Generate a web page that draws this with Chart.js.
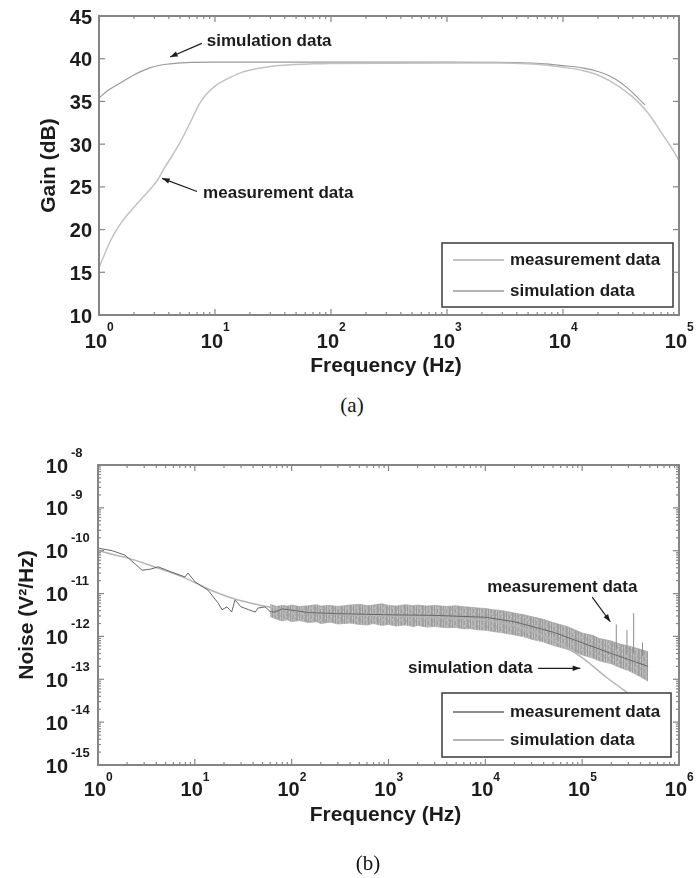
<!DOCTYPE html>
<html>
<head>
<meta charset="utf-8">
<script src="https://cdn.jsdelivr.net/npm/chart.js@4.4.1/dist/chart.umd.min.js"></script>
<style>
  body { margin: 0; background: #fff; width: 696px; height: 878px; position: relative; overflow: hidden; }
  canvas { position: absolute; left: 0; }
  #gain { top: 0; }
  #noise { top: 430px; }
  .cap { position: absolute; width: 60px; text-align: center; font-family: "Liberation Serif", "Times New Roman", serif; font-size: 21px; line-height: 24px; color: #111; }
</style>
</head>
<body>
<canvas id="gain" width="696" height="390"></canvas>
<canvas id="noise" width="696" height="448"></canvas>
<div class="cap" style="left:322px; top:393px">(a)</div>
<div class="cap" style="left:338px; top:851px">(b)</div>
<script>
// ---- (a) gain ----
const gainSimFreq = [1, 1.2, 1.5, 2, 2.7, 3.8, 5.7, 10, 100, 1000, 4000, 7000, 10000, 15000, 20000, 25000, 30000, 35000, 40000, 45000, 51000];
const gainSimDb = [35.4, 36.3, 37.1, 38.1, 38.9, 39.35, 39.55, 39.6, 39.6, 39.6, 39.55, 39.4, 39.2, 38.9, 38.5, 38.0, 37.4, 36.7, 36.0, 35.3, 34.6];
const gainMeasFreq = [1, 1.1, 1.2, 1.35, 1.5, 1.75, 2, 2.4, 2.8, 3.2, 3.7, 4.3, 5, 6, 7.4, 8.5, 10, 13, 17, 22, 30, 45, 70, 100, 1000, 3000, 5000, 7000, 10000, 15000, 20000, 30000, 40000, 50000, 60000, 70000, 85000, 100000];
const gainMeasDb = [15.5, 16.9, 18.1, 19.5, 20.5, 21.7, 22.6, 23.8, 24.8, 25.8, 27.3, 28.7, 30.2, 32.3, 34.8, 35.9, 36.8, 37.7, 38.4, 38.8, 39.1, 39.3, 39.4, 39.45, 39.5, 39.5, 39.4, 39.25, 39.0, 38.6, 38.1, 36.8, 35.5, 34.2, 32.8, 31.4, 29.7, 28.1];
const gainYTicks = [10, 15, 20, 25, 30, 35, 40, 45];
const gainXDecades = [0, 1, 2, 3, 4, 5];

// ---- (b) noise ----
const noiseSimFreq = [1, 1.5, 2, 3.6, 8, 13, 24, 50, 100, 300, 1000, 3000, 10000, 20000, 35000, 55000, 100000, 182000, 300000, 480000];
const noiseSimVal = [1.02e-10, 7.9e-11, 6.8e-11, 4.4e-11, 2.3e-11, 1.35e-11, 7.9e-12, 5.2e-12, 4.0e-12, 3.3e-12, 3.0e-12, 2.8e-12, 2.4e-12, 1.8e-12, 1.17e-12, 7.4e-13, 3.2e-13, 1.07e-13, 4.7e-14, 2.2e-14];
const noiseMeasFreq = [1, 1.4, 1.9, 2.4, 2.85, 3.45, 4.2, 5.5, 7.9, 8.5, 10.1, 13.7, 17.4, 19.1, 21.5, 24, 26, 30, 36, 42, 45, 53, 60, 67, 80, 92, 150, 300, 1000, 3000, 10000, 20000, 50000, 100000, 200000, 480000];
const noiseMeasVal = [1.15e-10, 1.0e-10, 7.9e-11, 5.0e-11, 3.5e-11, 3.7e-11, 4.2e-11, 3.3e-11, 2.45e-11, 3.0e-11, 1.86e-11, 1.2e-11, 6.0e-12, 4.2e-12, 4.9e-12, 3.7e-12, 7.1e-12, 4.9e-12, 4.2e-12, 3.7e-12, 4.6e-12, 4.9e-12, 3.8e-12, 3.7e-12, 4.4e-12, 4.2e-12, 3.6e-12, 3.4e-12, 3.2e-12, 3.1e-12, 2.8e-12, 2.2e-12, 1.26e-12, 7.1e-13, 4.0e-13, 2.0e-13];
const noiseBandFreq = [60, 70, 80, 90, 100, 120, 150, 180, 200, 250, 300, 400, 500, 600, 700, 850, 1000, 1200, 1500, 1800, 2000, 2500, 3000, 4000, 5000, 6000, 7000, 8500, 10000, 12000, 15000, 20000, 25000, 30000, 40000, 50000, 70000, 100000, 130000, 150000, 200000, 250000, 300000, 400000, 480000];
const noiseBandHigh = [5.6e-12, 5.0e-12, 5.3e-12, 5.1e-12, 5.4e-12, 5.0e-12, 5.2e-12, 5.5e-12, 5.1e-12, 5.3e-12, 5.0e-12, 5.4e-12, 5.6e-12, 5.2e-12, 5.4e-12, 5.8e-12, 5.3e-12, 5.1e-12, 5.5e-12, 5.2e-12, 5.4e-12, 5.1e-12, 5.3e-12, 5.0e-12, 5.2e-12, 4.9e-12, 4.8e-12, 4.6e-12, 4.5e-12, 4.2e-12, 4.0e-12, 3.5e-12, 3.2e-12, 2.9e-12, 2.5e-12, 2.1e-12, 1.7e-12, 1.2e-12, 1.05e-12, 9.0e-13, 7.8e-13, 6.6e-13, 6.0e-13, 5.0e-13, 4.4e-13];
const noiseBandLow = [2.9e-12, 2.5e-12, 2.3e-12, 2.45e-12, 2.2e-12, 2.35e-12, 2.1e-12, 2.2e-12, 2.0e-12, 2.15e-12, 1.95e-12, 2.05e-12, 1.9e-12, 1.85e-12, 2.0e-12, 1.8e-12, 1.9e-12, 1.75e-12, 1.85e-12, 1.7e-12, 1.8e-12, 1.65e-12, 1.7e-12, 1.6e-12, 1.62e-12, 1.5e-12, 1.52e-12, 1.42e-12, 1.4e-12, 1.3e-12, 1.22e-12, 1.08e-12, 9.8e-13, 8.6e-13, 7.4e-13, 6.2e-13, 5.0e-13, 3.7e-13, 3.1e-13, 2.7e-13, 2.3e-13, 1.85e-13, 1.6e-13, 1.15e-13, 9.0e-14];
const noiseSpikeFreq = [225000, 290000, 340000, 420000];
const noiseSpikeBase = [5.0e-13, 4.0e-13, 4.0e-13, 3.5e-13];
const noiseSpikeTop = [1.9e-12, 1.4e-12, 3.5e-12, 7.2e-13];
const noiseXDecades = [0, 1, 2, 3, 4, 5, 6];
const noiseYDecades = [-15, -14, -13, -12, -11, -10, -9, -8];

const ink = '#1c1c1c';
const sans = '"Liberation Sans", Arial, sans-serif';

function pts(xs, ys) {
  return xs.map((x, i) => ({ x: x, y: ys[i] }));
}

function spikes(f, lo, hi) {
  const out = [];
  f.forEach((x, i) => {
    out.push({ x: x, y: lo[i] }, { x: x, y: hi[i] }, { x: x, y: null });
  });
  return out;
}

function minorTicks(decades) {
  const out = [];
  for (let i = 0; i < decades.length - 1; i++) {
    for (let k = 2; k < 10; k++) out.push(k * Math.pow(10, decades[i]));
  }
  return out;
}

// grey hatch so the measured band looks grainy like the scan
function bandTexture() {
  const c = document.createElement('canvas');
  c.width = 9; c.height = 6;
  const g = c.getContext('2d');
  const greys = ['#a4a4a4', '#b4b4b4', '#9a9a9a', '#bcbcbc', '#aaaaaa', '#a0a0a0', '#b8b8b8', '#adadad', '#9e9e9e'];
  greys.forEach((col, i) => { g.fillStyle = col; g.fillRect(i, 0, 1, 6); });
  g.fillStyle = 'rgba(255,255,255,0.3)';
  g.fillRect(1, 1, 1, 2); g.fillRect(5, 3, 1, 2); g.fillRect(7, 0, 1, 1);
  return g.createPattern(c, 'repeat');
}

// draws the MATLAB style frame, tick labels, titles, notes and legend
const paperFrame = {
  id: 'paperFrame',
  afterDatasetsDraw(chart, args, o) {
    const ctx = chart.ctx, xs = chart.scales.x, ys = chart.scales.y, area = chart.chartArea;
    ctx.save();
    ctx.font = 'bold 17px ' + sans;
    ctx.textBaseline = 'middle';
    ctx.textAlign = 'left';
    o.notes.forEach(n => {
      ctx.fillStyle = ink;
      ctx.fillText(n.text, xs.getPixelForValue(n.at[0]), ys.getPixelForValue(n.at[1]));
      const x0 = xs.getPixelForValue(n.from[0]), y0 = ys.getPixelForValue(n.from[1]);
      const x1 = xs.getPixelForValue(n.to[0]), y1 = ys.getPixelForValue(n.to[1]);
      ctx.strokeStyle = ink;
      ctx.lineWidth = 1.2;
      ctx.beginPath(); ctx.moveTo(x0, y0); ctx.lineTo(x1, y1); ctx.stroke();
      const a = Math.atan2(y1 - y0, x1 - x0);
      ctx.beginPath();
      ctx.moveTo(x1, y1);
      ctx.lineTo(x1 - 8 * Math.cos(a - 0.35), y1 - 8 * Math.sin(a - 0.35));
      ctx.lineTo(x1 - 8 * Math.cos(a + 0.35), y1 - 8 * Math.sin(a + 0.35));
      ctx.closePath(); ctx.fill();
    });

    const lg = o.legend;
    const L = area.right - lg.right - lg.width, T = area.bottom - lg.bottom - lg.height;
    ctx.fillStyle = '#fff';
    ctx.fillRect(L, T, lg.width, lg.height);
    ctx.strokeStyle = '#3a3a3a';
    ctx.lineWidth = 1.5;
    ctx.strokeRect(L, T, lg.width, lg.height);
    chart.data.datasets.filter(d => d.label).forEach((d, i) => {
      const y = T + lg.rows[i];
      ctx.strokeStyle = d.borderColor;
      ctx.lineWidth = d.borderWidth + 0.5;
      ctx.beginPath(); ctx.moveTo(L + 11, y); ctx.lineTo(L + 62, y); ctx.stroke();
      ctx.fillStyle = ink;
      ctx.fillText(d.label, L + 68, y);
    });
    ctx.restore();
  },
  afterDraw(chart, args, o) {
    const ctx = chart.ctx, xs = chart.scales.x, ys = chart.scales.y, area = chart.chartArea;
    const line = (x1, y1, x2, y2) => { ctx.beginPath(); ctx.moveTo(x1, y1); ctx.lineTo(x2, y2); ctx.stroke(); };
    ctx.save();
    ctx.strokeStyle = '#858585';
    ctx.lineWidth = 1.2;
    const xMajor = o.xDecades.map(e => Math.pow(10, e));
    const xMinor = minorTicks(o.xDecades);
    xMajor.forEach(v => { const x = xs.getPixelForValue(v); line(x, area.bottom, x, area.bottom - 6); line(x, area.top, x, area.top + 6); });
    xMinor.forEach(v => { const x = xs.getPixelForValue(v); line(x, area.bottom, x, area.bottom - 3); line(x, area.top, x, area.top + 3); });
    const yMajor = o.yLog ? o.yTicks.map(e => Math.pow(10, e)) : o.yTicks;
    const yMinor = o.yLog ? minorTicks(o.yTicks) : [];
    yMajor.forEach(v => { const y = ys.getPixelForValue(v); line(area.left, y, area.left + 6, y); line(area.right, y, area.right - 6, y); });
    yMinor.forEach(v => { const y = ys.getPixelForValue(v); line(area.left, y, area.left + 3, y); line(area.right, y, area.right - 3, y); });
    ctx.lineWidth = 2;
    ctx.strokeRect(area.left, area.top, area.width, area.height);

    ctx.fillStyle = ink;
    ctx.textBaseline = 'middle';
    // x tick labels 10^n
    o.xDecades.forEach(e => {
      const x = xs.getPixelForValue(Math.pow(10, e));
      ctx.font = 'bold 20px ' + sans; ctx.textAlign = 'right';
      ctx.fillText('10', x + 8, area.bottom + o.xLab[0]);
      ctx.font = 'bold 12px ' + sans; ctx.textAlign = 'left';
      ctx.fillText(String(e), x + 8, area.bottom + o.xLab[1]);
    });
    // y tick labels
    o.yTicks.forEach(t => {
      if (o.yLog) {
        const y = ys.getPixelForValue(Math.pow(10, t));
        ctx.font = 'bold 20px ' + sans; ctx.textAlign = 'right';
        ctx.fillText('10', area.left - 30, y + 2);
        ctx.font = 'bold 13px ' + sans; ctx.textAlign = 'left';
        ctx.fillText(String(t), area.left - 27, y - 12);
      } else {
        const y = ys.getPixelForValue(t);
        ctx.font = 'bold 20px ' + sans; ctx.textAlign = 'right';
        ctx.fillText(String(t), area.left - 7, y + 2);
      }
    });
    // axis titles
    ctx.font = 'bold 21px ' + sans;
    ctx.textAlign = 'center';
    ctx.fillText(o.xTitle, (area.left + area.right) / 2 - 3, area.bottom + o.xTitleGap);
    ctx.translate(area.left - o.yTitleGap, (area.top + area.bottom) / 2);
    ctx.rotate(-Math.PI / 2);
    ctx.fillText(o.yTitle, 0, 0);
    ctx.restore();
  }
};

new Chart(document.getElementById('gain'), {
  type: 'line',
  data: {
    datasets: [
      { label: 'measurement data', data: pts(gainMeasFreq, gainMeasDb), borderColor: '#c2c2c2', borderWidth: 1.5, cubicInterpolationMode: 'monotone' },
      { label: 'simulation data', data: pts(gainSimFreq, gainSimDb), borderColor: '#9a9a9a', borderWidth: 1.2, cubicInterpolationMode: 'monotone' }
    ]
  },
  options: {
    responsive: false,
    animation: false,
    layout: { padding: { left: 99, top: 16, right: 17, bottom: 75 } },
    elements: { point: { radius: 0 } },
    scales: {
      x: { type: 'logarithmic', min: 1, max: 1e5, display: false },
      y: { type: 'linear', min: 10, max: 45, display: false }
    },
    plugins: {
      legend: { display: false },
      tooltip: { enabled: false },
      paperFrame: {
        xDecades: gainXDecades,
        yTicks: gainYTicks,
        yLog: false,
        xLab: [27, 12.5],
        xTitle: 'Frequency (Hz)',
        xTitleGap: 51,
        yTitle: 'Gain (dB)',
        yTitleGap: 50,
        legend: { right: 6, bottom: 8, width: 231, height: 64, rows: [17, 48] },
        notes: [
          { text: 'simulation data', at: [8.5, 42.05], from: [7.7, 41.8], to: [4.1, 40.2] },
          { text: 'measurement data', at: [7.9, 24.3], from: [7.0, 24.45], to: [3.5, 26.0] }
        ]
      }
    }
  },
  plugins: [paperFrame]
});

new Chart(document.getElementById('noise'), {
  type: 'line',
  data: {
    datasets: [
      { label: 'measurement data', data: pts(noiseMeasFreq, noiseMeasVal), borderColor: '#666666', borderWidth: 1, order: 0 },
      { label: 'simulation data', data: pts(noiseSimFreq, noiseSimVal), borderColor: '#b4b4b4', borderWidth: 1.5, cubicInterpolationMode: 'monotone', order: 1 },
      { label: '', data: spikes(noiseSpikeFreq, noiseSpikeBase, noiseSpikeTop), borderColor: '#8c8c8c', borderWidth: 1, order: 2 },
      { label: '', data: pts(noiseBandFreq, noiseBandHigh), borderColor: 'rgba(160,160,160,0.7)', borderWidth: 1, backgroundColor: bandTexture(), fill: '+1', order: 3 },
      { label: '', data: pts(noiseBandFreq, noiseBandLow), borderColor: 'rgba(160,160,160,0.7)', borderWidth: 1, fill: false, order: 4 }
    ]
  },
  options: {
    responsive: false,
    animation: false,
    layout: { padding: { left: 98, top: 35, right: 17, bottom: 113 } },
    elements: { point: { radius: 0 } },
    scales: {
      x: { type: 'logarithmic', min: 1, max: 1e6, display: false },
      y: { type: 'logarithmic', min: 1e-15, max: 1e-8, display: false }
    },
    plugins: {
      legend: { display: false },
      tooltip: { enabled: false },
      paperFrame: {
        xDecades: noiseXDecades,
        yTicks: noiseYDecades,
        yLog: true,
        xLab: [25, 13],
        xTitle: 'Frequency (Hz)',
        xTitleGap: 50,
        yTitle: 'Noise (V²/Hz)',
        yTitleGap: 71,
        legend: { right: 8, bottom: 8, width: 229, height: 64, rows: [19, 47] },
        notes: [
          { text: 'measurement data', at: [10440, 1.4e-11], from: [1.27e5, 8.3e-12], to: [1.95e5, 2.2e-12] },
          { text: 'simulation data', at: [1590, 1.8e-13], from: [35100, 1.8e-13], to: [95500, 1.8e-13] }
        ]
      }
    }
  },
  plugins: [paperFrame]
});
</script>
</body>
</html>
